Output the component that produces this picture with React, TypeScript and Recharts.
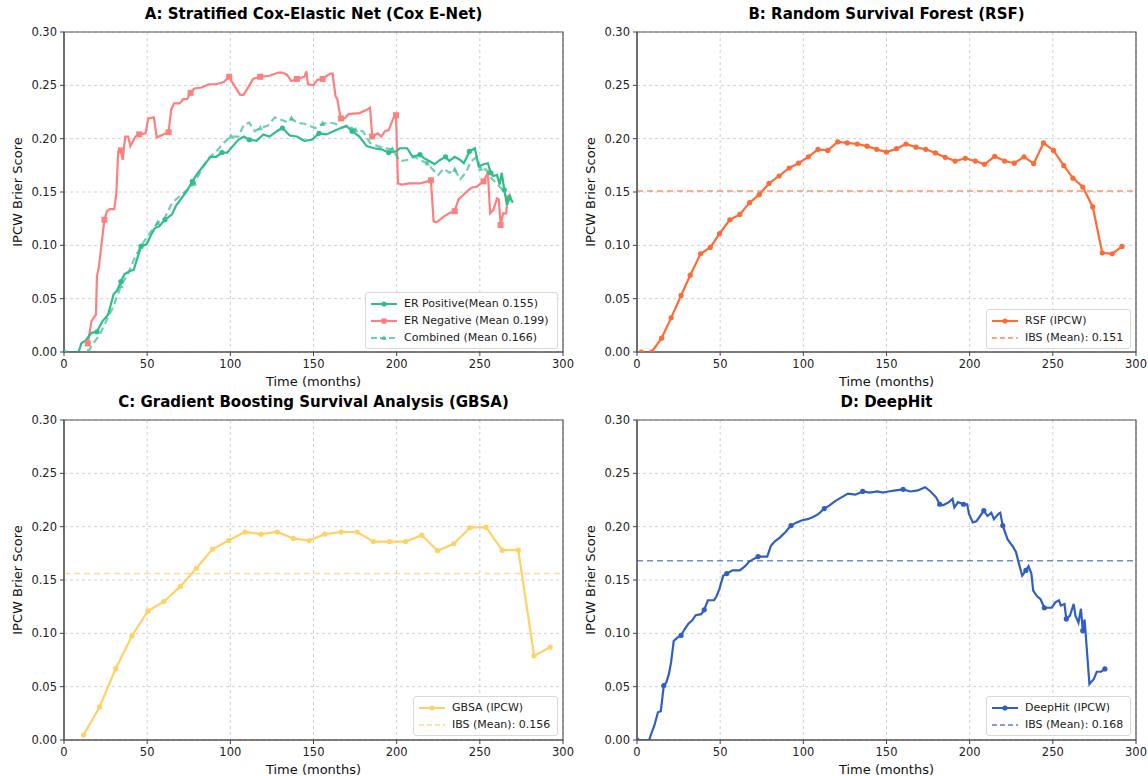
import React from 'react';
import { LineChart, Line, XAxis, YAxis, CartesianGrid, ReferenceLine, ReferenceArea, Legend } from 'recharts';

const FONT = '"DejaVu Sans", "Liberation Sans", sans-serif';

// ---------- axes ----------
const xTicks = [0, 50, 100, 150, 200, 250, 300];
const yTicks = [0, 0.05, 0.1, 0.15, 0.2, 0.25, 0.3];

// ---------- Panel A: Cox E-Net ----------
const erPositive: [number, number][] = [
  [0, 0], [8.8, 0], [10.4, 0.008], [13.2, 0.011], [16.5, 0.018], [19.8, 0.019], [23.2, 0.029], [26.5, 0.035],
  [29.8, 0.054], [32, 0.058], [34.2, 0.066], [36.4, 0.073], [39.7, 0.076], [41.9, 0.077], [44.1, 0.088],
  [46.3, 0.099], [49.6, 0.101], [51.8, 0.108], [54.5, 0.116], [57.4, 0.118], [60.7, 0.124], [65, 0.129],
  [67.3, 0.137], [70.6, 0.144], [73.9, 0.151], [77.2, 0.16], [80.5, 0.168], [85, 0.177], [88.2, 0.183],
  [91.5, 0.183], [94.9, 0.187], [98.2, 0.187], [101.5, 0.193], [104.8, 0.199], [108.1, 0.202], [111.4, 0.199],
  [115.8, 0.198], [119.8, 0.204], [123.5, 0.202], [128, 0.207], [131.3, 0.21], [135.7, 0.203], [140, 0.202],
  [144.5, 0.198], [149, 0.199], [153.3, 0.205], [157.7, 0.204], [162, 0.207], [166.5, 0.21], [169.8, 0.212],
  [173.2, 0.207], [177.6, 0.202], [182, 0.193], [186.4, 0.191], [190.8, 0.19], [195.2, 0.187], [199.6, 0.188],
  [201.9, 0.191], [206.3, 0.191], [209.6, 0.183], [214, 0.185], [216.2, 0.182], [219.5, 0.179], [222.8, 0.176],
  [226.1, 0.18], [229.4, 0.183], [231.6, 0.179], [234.9, 0.183], [238.2, 0.18], [240.4, 0.177], [243.7, 0.188],
  [247, 0.191], [249.3, 0.174], [252.2, 0.176], [254.8, 0.177], [256.6, 0.168], [258.1, 0.165], [260.3, 0.166],
  [261.9, 0.157], [263.2, 0.168], [264.7, 0.152], [266.3, 0.138], [268, 0.146], [269.8, 0.14],
];

const erNegative: [number, number][] = [
  [14.3, 0.008], [16.5, 0.029], [19.2, 0.035], [19.8, 0.071], [21, 0.08], [22.5, 0.1], [24.3, 0.124], [25.8, 0.132],
  [27.6, 0.134], [30.2, 0.134], [31.5, 0.149], [32.6, 0.188], [34.2, 0.189], [35.3, 0.18], [36.8, 0.202],
  [38.6, 0.202], [39.9, 0.193], [43, 0.202], [45.2, 0.204], [49, 0.205], [50.7, 0.219], [54, 0.22], [55.8, 0.201],
  [59.6, 0.204], [62.9, 0.206], [64.4, 0.227], [66.2, 0.233], [69.5, 0.233], [71.7, 0.237], [74, 0.237],
  [76.1, 0.243], [78.3, 0.247], [82.7, 0.248], [87.1, 0.251], [91.6, 0.251], [96, 0.253], [99.3, 0.258],
  [101.5, 0.252], [105.9, 0.241], [108, 0.241], [111.4, 0.25], [113.6, 0.256], [118, 0.258], [123.5, 0.259],
  [129, 0.262], [131.3, 0.262], [134, 0.26], [136.7, 0.254], [140, 0.256], [144.5, 0.258], [145.7, 0.263],
  [146.7, 0.251], [150, 0.25], [152.2, 0.255], [155.5, 0.256], [160, 0.261], [161.5, 0.261], [163.2, 0.24],
  [164.3, 0.237], [165.4, 0.227], [166.5, 0.219], [168.8, 0.219], [171, 0.223], [177.6, 0.224], [182, 0.227],
  [184, 0.229], [185.3, 0.202], [188.6, 0.205], [190.8, 0.202], [193, 0.207], [195.2, 0.208], [198.5, 0.221],
  [199.6, 0.222], [200.8, 0.158], [203, 0.157], [207.5, 0.158], [214, 0.158], [218.4, 0.16], [220.6, 0.161],
  [222.2, 0.1225], [224, 0.1216], [226, 0.124], [228.3, 0.127], [231.6, 0.13], [234.9, 0.132], [237.1, 0.143],
  [239.3, 0.146], [242.6, 0.151], [244.9, 0.154], [248.2, 0.155], [252.2, 0.16], [254.8, 0.168], [256.2, 0.13],
  [258.1, 0.133], [260.3, 0.144], [261.4, 0.143], [262.5, 0.119], [264, 0.13], [265.8, 0.13], [266.9, 0.146],
  [268.5, 0.148],
];

const combined: [number, number][] = [
  [14.3, 0], [17.6, 0.008], [21, 0.015], [25.4, 0.029], [29.8, 0.043], [34.2, 0.062], [38.6, 0.074], [43, 0.09],
  [47.4, 0.102], [51.8, 0.112], [56.3, 0.121], [60.7, 0.126], [65, 0.14], [69.5, 0.146], [74, 0.152],
  [78.3, 0.158], [82.7, 0.171], [87.1, 0.182], [91.6, 0.188], [96, 0.196], [100.4, 0.202], [104.8, 0.202],
  [108.1, 0.213], [111.4, 0.215], [114.7, 0.207], [118, 0.21], [122.4, 0.212], [126.8, 0.22], [130.1, 0.218],
  [133.4, 0.216], [136.7, 0.219], [140, 0.215], [144.5, 0.214], [147.8, 0.212], [151.1, 0.21], [155.5, 0.214],
  [160, 0.215], [163.2, 0.214], [166.5, 0.21], [170.9, 0.212], [175.3, 0.208], [179.7, 0.207], [184, 0.196],
  [188.6, 0.193], [193, 0.191], [197.4, 0.19], [201.9, 0.179], [206.3, 0.18], [210.7, 0.183], [214, 0.18],
  [218.4, 0.177], [221.7, 0.171], [225, 0.166], [228.3, 0.172], [231.6, 0.168], [234.9, 0.171], [238.2, 0.162],
  [241.5, 0.168], [244.9, 0.179], [248.2, 0.183], [250.4, 0.172], [253.7, 0.171], [257.4, 0.162], [260.3, 0.158],
  [263.6, 0.152], [266.9, 0.143], [269.1, 0.146],
];

// ---------- Panel B: RSF ----------
const rsf: [number, number][] = [
  [2.6, 0], [8.8, 0], [14.8, 0.013], [20.5, 0.032], [26.5, 0.053], [32, 0.072], [38.2, 0.092], [44.1, 0.098],
  [49.6, 0.111], [55.8, 0.124], [61.8, 0.129], [67.7, 0.14], [73.5, 0.1475], [79.4, 0.158], [85.4, 0.165],
  [91.5, 0.1725], [97.1, 0.177], [103, 0.183], [108.8, 0.19], [114.7, 0.189], [120.7, 0.197], [126.4, 0.196],
  [132.4, 0.195], [138.3, 0.193], [144.1, 0.19], [150, 0.1875], [156, 0.1906], [161.7, 0.195], [167.7, 0.192],
  [173.6, 0.19], [179.4, 0.1866], [185.3, 0.1825], [191.3, 0.179], [197.4, 0.1816], [203.4, 0.179],
  [208.9, 0.176], [215.1, 0.1834], [221, 0.179], [226.8, 0.177], [232.7, 0.183], [238.5, 0.1766], [244.4, 0.196],
  [250.4, 0.189], [256.6, 0.1747], [262.1, 0.163], [268, 0.1547], [274, 0.136], [279.7, 0.093], [285.7, 0.092],
  [291.6, 0.099],
];
const rsfIbs = 0.151;

// ---------- Panel C: GBSA ----------
const gbsa: [number, number][] = [
  [11.7, 0.0047], [21.4, 0.031], [31.1, 0.067], [40.8, 0.0975], [50.5, 0.121], [60.2, 0.13], [70, 0.144],
  [79.6, 0.161], [89.3, 0.179], [99, 0.187], [108.8, 0.195], [118.5, 0.193], [128.2, 0.195], [137.9, 0.189],
  [147.4, 0.187], [156.8, 0.193], [166.6, 0.195], [176.3, 0.195], [186, 0.186], [195.7, 0.186], [205.4, 0.186],
  [215.1, 0.192], [224.6, 0.1775], [234.3, 0.184], [244, 0.199], [253.7, 0.1995], [263.4, 0.178], [273.1, 0.178],
  [282.6, 0.079], [292.3, 0.087],
];
const gbsaIbs = 0.156;

// ---------- Panel D: DeepHit ----------
const deepHit: [number, number][] = [
  [0, 0], [7.3, 0], [8.8, 0.007], [10.4, 0.0134], [12.6, 0.026], [14.3, 0.027], [16.1, 0.051], [17.6, 0.054],
  [19.2, 0.062], [20.5, 0.073], [22.1, 0.093], [24.3, 0.096], [26.5, 0.098], [28.7, 0.104], [30.9, 0.109],
  [33.1, 0.112], [35.3, 0.117], [38.6, 0.118], [40.4, 0.122], [42.6, 0.131], [46.3, 0.131], [47.9, 0.135],
  [49.6, 0.142], [51.8, 0.154], [54, 0.156], [57.4, 0.159], [61.8, 0.159], [65, 0.163], [67.3, 0.167],
  [70.6, 0.17], [72.8, 0.172], [78.3, 0.172], [80.5, 0.182], [82.7, 0.186], [86, 0.19], [89.3, 0.195],
  [92.6, 0.201], [96, 0.204], [99.3, 0.206], [102.6, 0.207], [105.9, 0.209], [109.2, 0.212], [112.6, 0.217],
  [115.8, 0.22], [119.1, 0.224], [122.4, 0.227], [126.8, 0.231], [131.3, 0.23], [135.7, 0.233], [140, 0.232],
  [144.5, 0.233], [147.8, 0.232], [151.1, 0.233], [155.5, 0.234], [160, 0.235], [164.3, 0.233], [168.8, 0.234],
  [173.2, 0.237], [176.5, 0.233], [179.8, 0.2275], [182, 0.221], [184, 0.22], [187.5, 0.223], [189.7, 0.226],
  [190.8, 0.218], [193, 0.223], [196.3, 0.221], [198.5, 0.221], [199.6, 0.212], [201.9, 0.204], [204, 0.205],
  [206.3, 0.21], [208.5, 0.215], [210.7, 0.21], [213, 0.213], [214.6, 0.207], [217.3, 0.212], [218.4, 0.213],
  [219.9, 0.201], [222.8, 0.188], [226.1, 0.181], [227.9, 0.176], [229.4, 0.1665], [231.6, 0.154],
  [233.8, 0.159], [235.4, 0.163], [237.1, 0.156], [238.2, 0.14], [240.4, 0.135], [242.6, 0.132], [244.9, 0.124],
  [249.3, 0.124], [251.5, 0.129], [253.7, 0.131], [254.8, 0.126], [257, 0.1275], [258.1, 0.1135], [260.3, 0.1166],
  [262.5, 0.1275], [263.6, 0.1166], [265.4, 0.11], [266.9, 0.123], [268, 0.1025], [269.1, 0.113], [272, 0.0525],
  [274.6, 0.057], [276.4, 0.064], [279, 0.064], [281.3, 0.0666],
];
const deepHitIbs = 0.168;

// ---------- styles ----------
const C_POS = '#2FBE88';
const C_NEG = '#FF7F7F';
const C_RSF = '#FF6B35';
const C_GBSA = '#FFD166';
const C_DH = '#2F5FBF';

type Marker = 'circle' | 'square' | 'triangle';
interface Series {
  name: string;
  data: [number, number][];
  color: string;
  opacity?: number;
  dash?: string;
  marker: Marker;
  every: number;
  size: number;
}
interface LegendItem { label: string; color: string; dash?: string; marker?: Marker; opacity?: number }

const toRows = (arr: [number, number][]) => arr.map(([t, v]) => ({ t, v }));

function markerShape(m: Marker, cx: number, cy: number, s: number, color: string, op: number, key: string) {
  if (m === 'square') return <rect key={key} x={cx - s} y={cy - s} width={2 * s} height={2 * s} fill={color} fillOpacity={op} />;
  if (m === 'triangle')
    return <polygon key={key} points={`${cx},${cy - s * 1.2} ${cx - s},${cy + s * 0.8} ${cx + s},${cy + s * 0.8}`} fill={color} fillOpacity={op} />;
  return <circle key={key} cx={cx} cy={cy} r={s} fill={color} fillOpacity={op} />;
}

function makeDot(s: Series) {
  return (p: any) => {
    const key = `${s.name}-${p.index}`;
    if (p.cx == null || p.cy == null || p.index % s.every !== 0) return <g key={key} />;
    return markerShape(s.marker, p.cx, p.cy, s.size, s.color, s.opacity ?? 1, key);
  };
}

interface PanelProps {
  left: number;
  top: number;
  title: string;
  series: Series[];
  ibs?: { value: number; color: string };
  legendItems: LegendItem[];
  legendBox: { left: number; top: number; width: number };
}

function LegendBox({ items, width }: { items: LegendItem[]; width: number }) {
  return (
    <div
      style={{
        width,
        boxSizing: 'border-box',
        border: '1px solid #d8d8d8',
        borderRadius: 3,
        background: 'rgba(255,255,255,0.85)',
        padding: '2px 4px 2px 4px',
        fontFamily: FONT,
        fontSize: 11,
        color: '#222',
      }}
    >
      {items.map((it) => (
        <div key={it.label} style={{ display: 'flex', alignItems: 'center', height: 17 }}>
          <svg width={28} height={10} style={{ marginRight: 6, flex: 'none' }}>
            <line x1={1} y1={5} x2={27} y2={5} stroke={it.color} strokeOpacity={it.opacity ?? 1} strokeWidth={2} strokeDasharray={it.dash} />
            {it.marker ? markerShape(it.marker, 14, 5, 2.6, it.color, it.opacity ?? 1, 'm') : null}
          </svg>
          <span style={{ whiteSpace: 'nowrap' }}>{it.label}</span>
        </div>
      ))}
    </div>
  );
}

function Panel({ left, top, title, series, ibs, legendItems, legendBox }: PanelProps) {
  return (
    <div style={{ position: 'absolute', left, top, width: 574, height: 388 }}>
      <div
        style={{
          position: 'absolute',
          left: 64,
          width: 499,
          top: 5,
          textAlign: 'center',
          fontFamily: FONT,
          fontWeight: 'bold',
          fontSize: 15,
          lineHeight: '18px',
          color: '#000',
          zIndex: 2,
        }}
      >
        {title}
      </div>
      <LineChart width={574} height={388} margin={{ top: 32, right: 11, bottom: 0, left: 0 }}>
        <CartesianGrid stroke="#d0d0d0" strokeDasharray="3 3" />
        <XAxis
          type="number"
          dataKey="t"
          domain={[0, 300]}
          ticks={xTicks}
          allowDataOverflow
          height={36}
          tickSize={4}
          tickMargin={4}
          tick={{ fontSize: 11.5, fill: '#222', fontFamily: FONT }}
          tickLine={{ stroke: '#444' }}
          axisLine={{ stroke: '#555', strokeWidth: 1.2 }}
          label={{ value: 'Time (months)', position: 'insideBottom', offset: 2, style: { fontSize: 13, fill: '#111', fontFamily: FONT } }}
        />
        <YAxis
          type="number"
          domain={[0, 0.3]}
          ticks={yTicks}
          allowDataOverflow
          width={64}
          tickSize={4}
          tickMargin={3}
          tickFormatter={(v: number) => v.toFixed(2)}
          tick={{ fontSize: 11.5, fill: '#222', fontFamily: FONT }}
          tickLine={{ stroke: '#444' }}
          axisLine={{ stroke: '#555', strokeWidth: 1.2 }}
          label={{ value: 'IPCW Brier Score', angle: -90, position: 'insideLeft', offset: 17, style: { textAnchor: 'middle', fontSize: 13, fill: '#111', fontFamily: FONT } }}
        />
        <ReferenceArea x1={0} x2={300} y1={0} y2={0.3} fill="none" stroke="#555" strokeWidth={1.2} />
        {ibs ? <ReferenceLine y={ibs.value} stroke={ibs.color} strokeOpacity={0.7} strokeDasharray="6 4" strokeWidth={1.5} /> : null}
        {series.map((s) => (
          <Line
            key={s.name}
            name={s.name}
            data={toRows(s.data)}
            dataKey="v"
            type="linear"
            stroke={s.color}
            strokeOpacity={s.opacity ?? 1}
            strokeWidth={2.2}
            strokeDasharray={s.dash}
            dot={makeDot(s)}
            activeDot={false}
            isAnimationActive={false}
          />
        ))}
        <Legend
          layout="vertical"
          align="center"
          verticalAlign="middle"
          wrapperStyle={{ left: legendBox.left, top: legendBox.top, width: legendBox.width, height: 'auto', margin: 0 }}
          content={() => <LegendBox items={legendItems} width={legendBox.width} />}
        />
      </LineChart>
    </div>
  );
}

export default function App() {
  return (
    <div style={{ position: 'absolute', left: 0, top: 0, width: 1148, height: 776, background: '#fff' }}>
      <Panel
        left={0}
        top={0}
        title="A: Stratified Cox-Elastic Net (Cox E-Net)"
        series={[
          { name: 'ER Negative', data: erNegative, color: C_NEG, marker: 'square', every: 6, size: 3 },
          { name: 'Combined', data: combined, color: C_POS, opacity: 0.7, dash: '7 4', marker: 'triangle', every: 5, size: 2.8 },
          { name: 'ER Positive', data: erPositive, color: C_POS, marker: 'circle', every: 5, size: 2.6 },
        ]}
        legendItems={[
          { label: 'ER Positive(Mean 0.155)', color: C_POS, marker: 'circle' },
          { label: 'ER Negative (Mean 0.199)', color: C_NEG, marker: 'square' },
          { label: 'Combined (Mean 0.166)', color: C_POS, marker: 'triangle', dash: '6 3', opacity: 0.7 },
        ]}
        legendBox={{ left: 365, top: 292, width: 193 }}
      />
      <Panel
        left={573}
        top={0}
        title="B: Random Survival Forest (RSF)"
        series={[{ name: 'RSF (IPCW)', data: rsf, color: C_RSF, marker: 'circle', every: 1, size: 2.6 }]}
        ibs={{ value: rsfIbs, color: C_RSF }}
        legendItems={[
          { label: 'RSF (IPCW)', color: C_RSF, marker: 'circle' },
          { label: `IBS (Mean): ${rsfIbs.toFixed(3)}`, color: C_RSF, dash: '5 3', opacity: 0.6 },
        ]}
        legendBox={{ left: 413, top: 309, width: 145 }}
      />
      <Panel
        left={0}
        top={388}
        title="C: Gradient Boosting Survival Analysis (GBSA)"
        series={[{ name: 'GBSA (IPCW)', data: gbsa, color: C_GBSA, marker: 'circle', every: 1, size: 2.6 }]}
        ibs={{ value: gbsaIbs, color: C_GBSA }}
        legendItems={[
          { label: 'GBSA (IPCW)', color: C_GBSA, marker: 'circle' },
          { label: `IBS (Mean): ${gbsaIbs.toFixed(3)}`, color: C_GBSA, dash: '5 3', opacity: 0.6 },
        ]}
        legendBox={{ left: 413, top: 308, width: 145 }}
      />
      <Panel
        left={573}
        top={388}
        title="D: DeepHit"
        series={[{ name: 'DeepHit (IPCW)', data: deepHit, color: C_DH, marker: 'circle', every: 6, size: 2.6 }]}
        ibs={{ value: deepHitIbs, color: C_DH }}
        legendItems={[
          { label: 'DeepHit (IPCW)', color: C_DH, marker: 'circle' },
          { label: `IBS (Mean): ${deepHitIbs.toFixed(3)}`, color: C_DH, dash: '5 3', opacity: 0.6 },
        ]}
        legendBox={{ left: 413, top: 308, width: 145 }}
      />
    </div>
  );
}
